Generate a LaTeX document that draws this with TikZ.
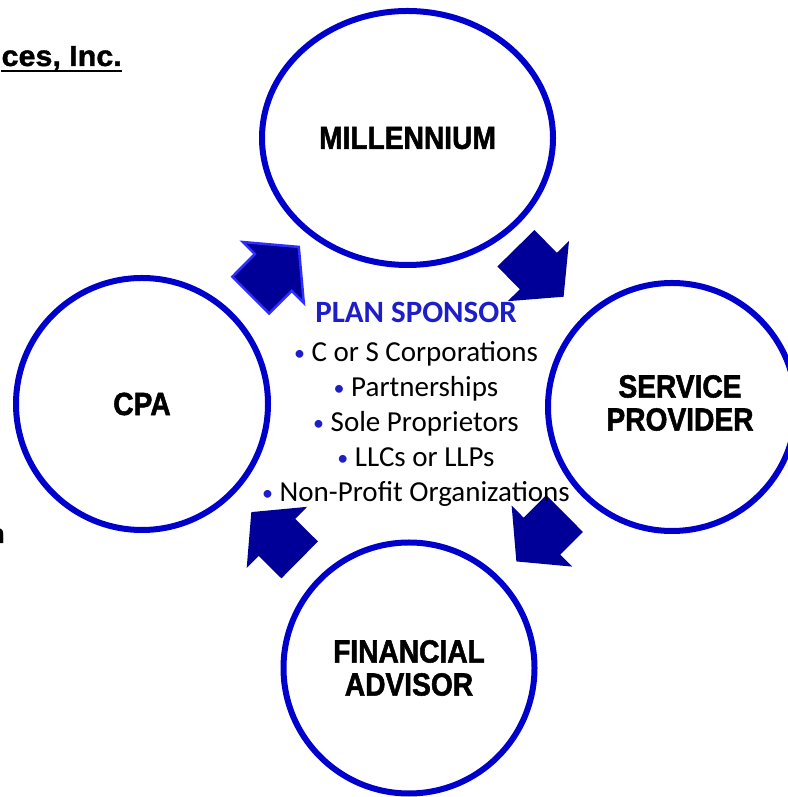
\documentclass[tikz,border=0pt]{standalone}
\usepackage{fontspec}
\setmainfont{Carlito}
\newfontfamily\circfont{Liberation Sans}[FakeStretch=0.88,BoldFeatures={FakeBold=1.6}]
\newfontfamily\firmfont{Liberation Sans}[FakeStretch=1.05,BoldFeatures={FakeBold=1.4}]
\usetikzlibrary{shapes.geometric,calc}
\definecolor{ringblue}{RGB}{0,0,204}
\definecolor{arrowblue}{RGB}{0,0,153}
\definecolor{edgeblue}{RGB}{45,45,255}
\definecolor{textblue}{RGB}{30,30,200}
\newcommand{\dotmark}{{\color{textblue}\raisebox{1.5pt}{\fontsize{22}{22}\selectfont\textbullet}}}

\begin{document}
\begin{tikzpicture}[x=1pt,y=1pt,
		tag/.style={font=\circfont\bfseries\fontsize{32}{33}\selectfont,align=center},
		ring/.style={tag,draw=ringblue,line width=6pt,ellipse,inner sep=0pt},
		item/.style={anchor=base,font=\fontsize{29}{35}\selectfont},
		flow/.pic={\path[fill=arrowblue,line join=miter,pic actions]
			(-34,-26) -- (-2,-26) -- (-2,-43) -- (34,0) -- (-2,43) -- (-2,26) -- (-34,26) -- cycle;}]
			\useasboundingbox[fill=white] (0,0) rectangle (787,797);
			% the four parties
			\node[ring,minimum width=291pt,minimum height=254pt] (mil) at (407.5,659) {MILLENNIUM};
			\node[ring,minimum size=252pt] (cpa) at (142,393) {CPA};
			\node[ring,minimum size=248pt] (sp) at (672,390) {};
			\node[tag] (spt) at ([xshift=8pt,yshift=4pt]sp.center) {SERVICE\\PROVIDER};
			\node[ring,minimum size=251pt] (fa) at (409,129) {FINANCIAL\\ADVISOR};
			% block arrows round the cycle
			\path (cpa.center) -- (mil.center) pic[pos=.5,sloped,allow upside down,draw=edgeblue,line width=2.5pt] {flow};
			\path (mil.center) -- (sp.center) pic[pos=.5,sloped,allow upside down] {flow};
			\path (sp.center) -- (fa.center) pic[pos=.5,sloped,allow upside down] {flow};
			\path (fa.center) -- (cpa.center) pic[pos=.5,sloped,allow upside down] {flow};
			% plan sponsor in the middle
			\node[anchor=base,font=\bfseries\fontsize{31}{35}\selectfont,text=textblue] (sponsor) at (416,474) {PLAN SPONSOR};
			\foreach \t [count=\i] in {C or S Corporations,Partnerships,Sole Proprietors,LLCs or LLPs,Non-Profit Organizations}
				\node[item] (item\i) at (416,{435-35*(\i-1)}) {\dotmark\ \t};
			% cut off slide text
			\node[anchor=base east,inner sep=0pt,font=\firmfont\bfseries\fontsize{29}{30}\selectfont] (firm) at (122,731) {ces, Inc.};
			\draw[line width=2.5pt] ([yshift=-5pt]firm.base west) -- ([yshift=-5pt]firm.base east);
			\node[anchor=base east,inner sep=0pt,font=\firmfont\bfseries\fontsize{27}{30}\selectfont] (cut) at (5,254) {n};
		\end{tikzpicture}
\end{document}
